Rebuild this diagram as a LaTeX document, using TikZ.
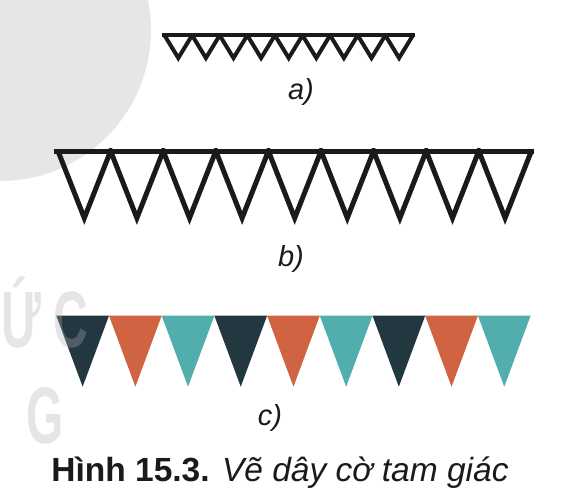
\documentclass[tikz,border=0pt]{standalone}
\usepackage{fontspec}
\setmainfont{Liberation Sans}
\definecolor{navy}{RGB}{35,55,65}
\definecolor{rust}{RGB}{208,100,66}
\definecolor{teal2}{RGB}{82,173,173}
\definecolor{ink}{RGB}{26,26,26}
\definecolor{wmgray}{RGB}{230,230,230}
\definecolor{wmtext}{RGB}{175,175,175}
\tikzset{
  flagline/.style={draw=ink,line join=miter,miter limit=20},
  lbl/.style={inner sep=0pt,text=ink,font=\fontsize{29}{32}\selectfont\itshape},
  wm/.style={inner sep=0pt,text=wmtext,text opacity=0.32,xscale=0.6,
    font=\fontsize{80}{80}\selectfont\bfseries,anchor=base west},
}
\begin{document}
\begin{tikzpicture}[x=1pt,y=-1pt]
\useasboundingbox (0,0) rectangle (566,504);
% watermark circle
\begin{scope}
\clip (0,0) rectangle (566,504);
\fill[wmgray] (0,30) circle[radius=151];
\end{scope}
% a) small bunting
\begin{scope}
\clip (150,33.3) rectangle (430,70);
\draw[flagline,line width=4pt] (164.5,35.3)
  \foreach \i in {0,...,8} { -- ({164.5+27.6*\i+13.8},58) -- ({164.5+27.6*(\i+1)},35.3) };
\end{scope}
\draw[ink,line width=4pt] (162,35.3) -- (415,35.3);
% b) large bunting
\begin{scope}
\clip (40,148.5) rectangle (550,240);
\draw[flagline,line width=5pt] (58,151)
  \foreach \i in {0,...,8} { -- ({58+52.6*\i+26.3},218) -- ({58+52.6*(\i+1)},151) };
\end{scope}
\draw[ink,line width=5pt] (54,151) -- (534,151);
% c) coloured bunting
\foreach \i/\c in {0/navy,1/rust,2/teal2,3/navy,4/rust,5/teal2,6/navy,7/rust,8/teal2}{
  \fill[\c] ({56.3+52.7*\i},315.7) -- ({56.3+52.7*(\i+1)},315.7) -- ({56.3+52.7*\i+26.35},386.7) -- cycle;
}
% watermark letters
\node[wm] (w1) at (1,347) {Ứ};
\node[wm] (w2) at (53,347) {C};
\node[wm] (w4) at (26,443) {G};
% labels
\node[lbl] (la) at (301,92) {a)};
\node[lbl] (lb) at (291,259) {b)};
\node[lbl] (lc) at (270,418) {c)};
\node[inner sep=0pt,text=ink,anchor=base,font=\fontsize{33.5}{38}\selectfont] (cap) at (280,481.7)
  {\textbf{Hình 15.3.} \textit{Vẽ dây cờ tam giác}};
\end{tikzpicture}
\end{document}
